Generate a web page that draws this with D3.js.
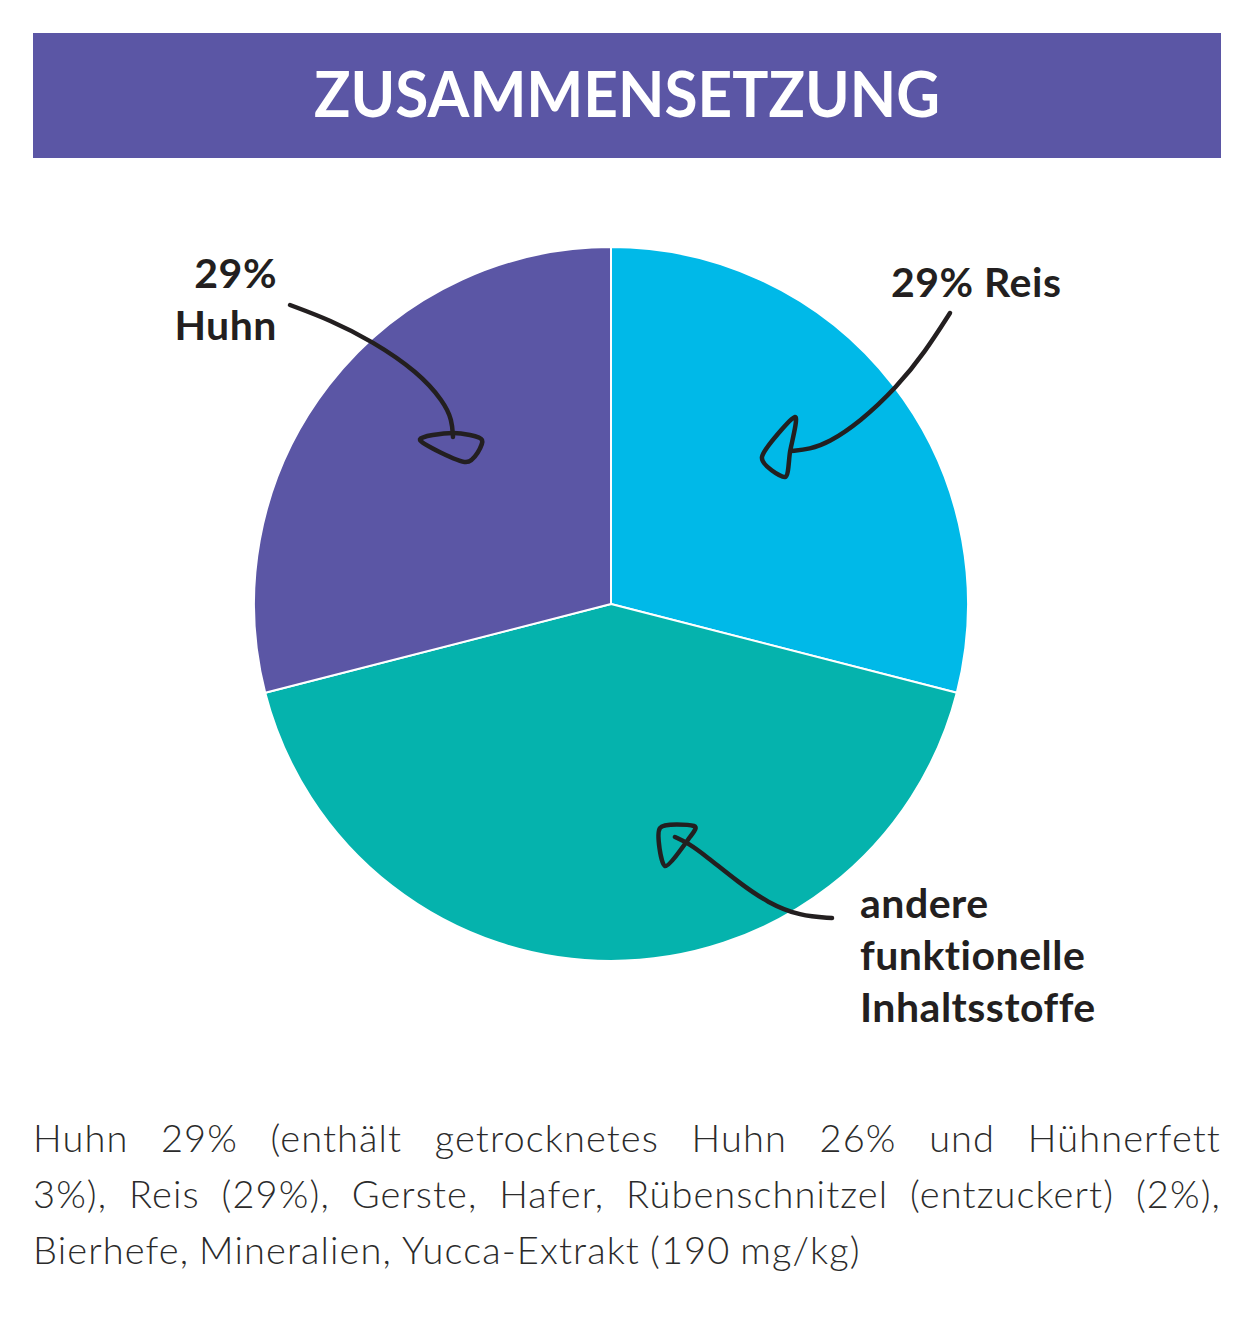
<!DOCTYPE html>
<html>
<head>
<meta charset="utf-8">
<script src="https://d3js.org/d3.v7.min.js"></script>
<style>
  body { margin: 0; background: #fff; }
  svg { display: block; }
  text { font-variant-ligatures: none; }
</style>
</head>
<body>
<div class="chart"></div>
<script>
// DATA
var categories = ["Reis", "andere funktionelle Inhaltsstoffe", "Huhn"];
var values = [29, 42, 29];
var colors = ["#00b9e8", "#05b3ad", "#5b56a5"];

var title = "ZUSAMMENSETZUNG";
var bodyLines = [
	"Huhn 29% (enthält getrocknetes Huhn 26% und Hühnerfett",
	"3%), Reis (29%), Gerste, Hafer, Rübenschnitzel (entzuckert) (2%),",
	"Bierhefe, Mineralien, Yucca-Extrakt (190 mg/kg)"
];

// LAYOUT
var W = 1257, H = 1337;
var cx = 611, cy = 604, radius = 357;
var ink = "#231f20";

var svg = d3.select(".chart")
	.append("svg")
	.attr("width", W)
	.attr("height", H)
	.attr("viewBox", "0 0 " + W + " " + H);

// header bar
svg.append("rect")
	.attr("x", 33)
	.attr("y", 33)
	.attr("width", 1188)
	.attr("height", 125)
	.attr("fill", "#5b56a5");

svg.append("text")
	.attr("x", 627)
	.attr("y", 117)
	.attr("text-anchor", "middle")
	.attr("fill", "#fff")
	.style("font-family", "Lato, 'Open Sans', sans-serif")
	.style("font-weight", 700)
	.style("font-size", "63px")
	.attr("textLength", 626)
	.attr("lengthAdjust", "spacingAndGlyphs")
	.text(title);

// pie
var pie = d3.pie().sort(null).value(function(d) { return d; });
var arc = d3.arc().innerRadius(0).outerRadius(radius);

var pieG = svg.append("g")
	.attr("transform", "translate(" + cx + "," + cy + ")");

pieG.selectAll("path")
	.data(pie(values))
	.enter()
	.append("path")
		.attr("d", arc)
		.attr("fill", function(d, i) { return colors[i]; })
		.attr("stroke", "#fff")
		.attr("stroke-width", 2)
		.attr("stroke-linejoin", "round");

// hand drawn arrows
var line = d3.line().curve(d3.curveBasis);
var loop = d3.line().curve(d3.curveCardinalClosed.tension(0.2));

var arrows = [
	{
		shaft: [[290, 305], [330, 320], [372, 341], [418, 372], [444, 402], [452, 420], [453, 437]],
		head: [[453, 433], [420, 440], [466, 462], [482, 440]]
	},
	{
		shaft: [[950, 313], [925, 352], [897, 387], [860, 422], [828, 443], [810, 449], [791, 451]],
		head: [[795, 417], [762, 457], [785, 477], [790, 452]]
	},
	{
		shaft: [[832, 918], [800, 916], [768, 903], [738, 882], [706, 856], [688, 843], [675, 837]],
		head: [[660, 828], [665, 866], [690, 837], [694, 826]]
	}
];

var arrowG = svg.append("g")
	.attr("fill", "none")
	.attr("stroke", ink)
	.attr("stroke-width", 4.5)
	.attr("stroke-linecap", "round")
	.attr("stroke-linejoin", "round");

arrows.forEach(function(a) {
	arrowG.append("path").attr("d", line(a.shaft));
	arrowG.append("path").attr("d", loop(a.head));
});

// slice labels
var labelStyle = function(sel) {
	sel.attr("fill", ink)
		.style("font-family", "Lato, 'Open Sans', sans-serif")
		.style("font-weight", 700)
		.style("font-size", "41px")
		.style("letter-spacing", "0.5px");
};

var labels = [
	{ lines: ["29%", "Huhn"], x: 277, y: 288, anchor: "end" },
	{ lines: ["29% Reis"], x: 891, y: 297, anchor: "start" },
	{ lines: ["andere", "funktionelle", "Inhaltsstoffe"], x: 860, y: 918, anchor: "start" }
];

labels.forEach(function(l) {
	l.lines.forEach(function(t, i) {
		svg.append("text")
			.call(labelStyle)
			.attr("x", l.x)
			.attr("y", l.y + i * 52)
			.attr("text-anchor", l.anchor)
			.text(t);
	});
});

// justified ingredient text
var textLeft = 33, textRight = 1221;
var bodyG = svg.append("g")
	.attr("fill", "#2b2b2b")
	.style("font-family", "Lato, 'Open Sans', sans-serif")
	.style("font-weight", 300)
	.style("font-size", "38px")
	.style("letter-spacing", "1.1px");

bodyLines.forEach(function(str, li) {
	var y = 1152 + li * 56;
	var words = str.split(" ");
	var last = li == bodyLines.length - 1;
	var nodes = words.map(function(w) {
		return bodyG.append("text").attr("y", y).text(w);
	});
	var widths = nodes.map(function(n) { return n.node().getComputedTextLength(); });
	var total = d3.sum(widths);
	var gap = last ? 10 : (textRight - textLeft - total) / (words.length - 1);
	var xPos = textLeft;
	nodes.forEach(function(n, i) {
		n.attr("x", xPos);
		xPos += widths[i] + gap;
	});
});
</script>
</body>
</html>
